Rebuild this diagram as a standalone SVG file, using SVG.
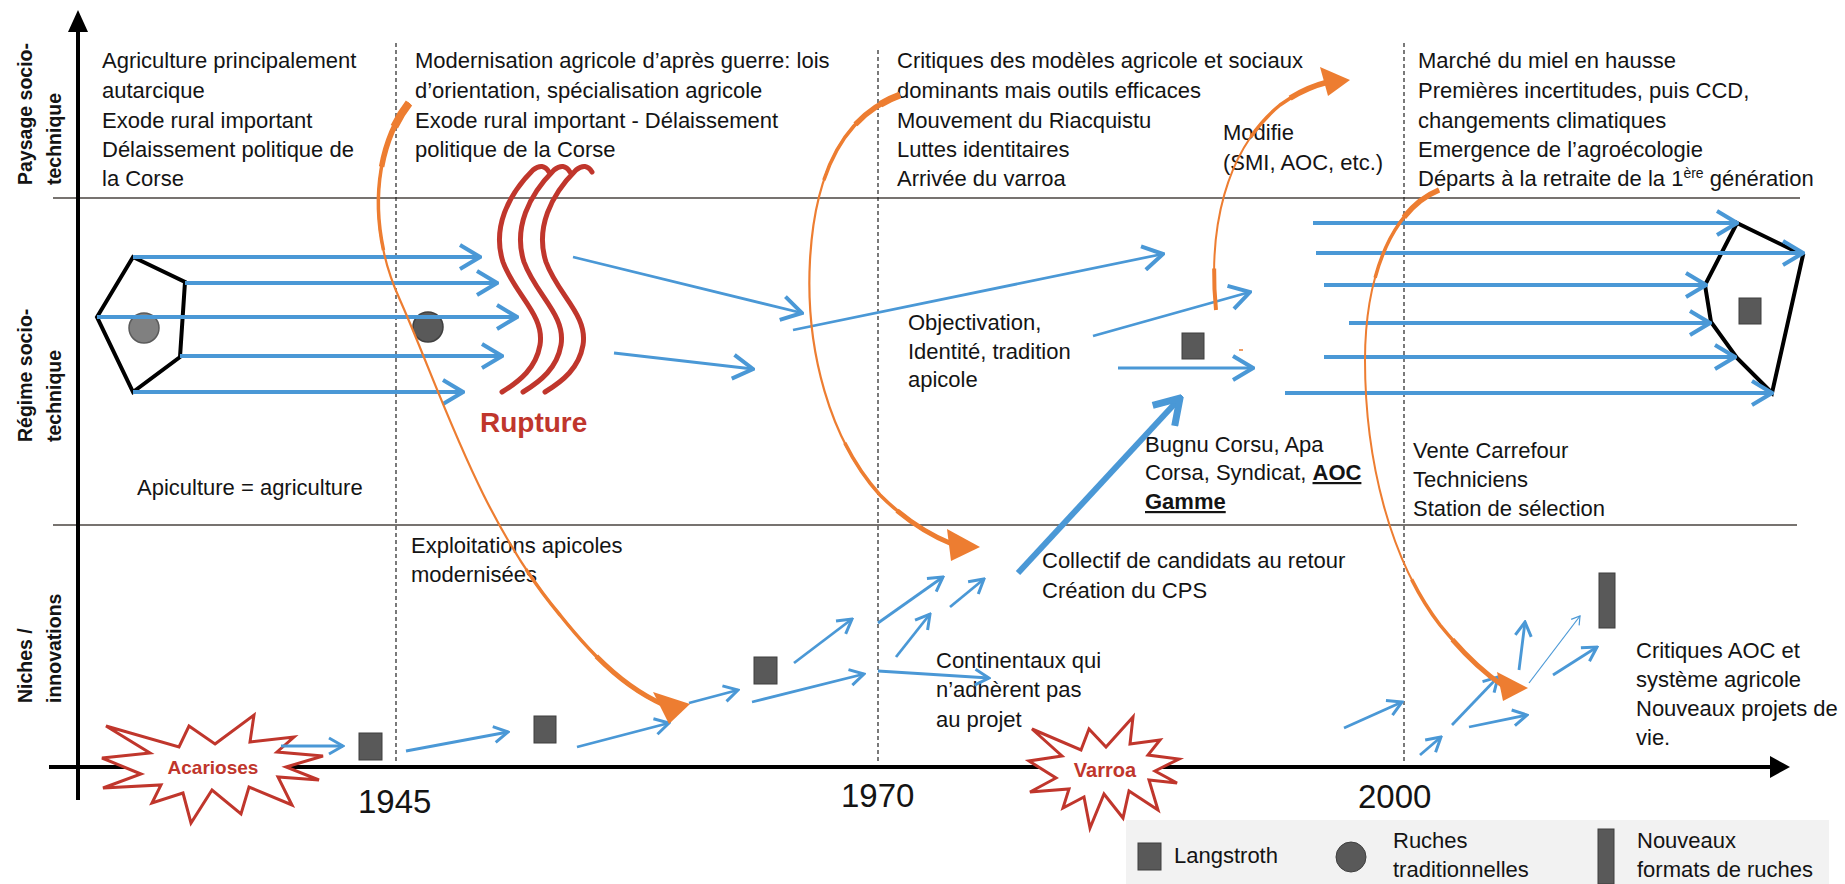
<svg xmlns="http://www.w3.org/2000/svg" width="1845" height="884" viewBox="0 0 1845 884">
<defs>
<style>
text{font-family:"Liberation Sans",Arial,sans-serif;fill:#141414}
.t{font-size:22px}
.lab{font-size:19.5px;font-weight:bold}
.yr{font-size:33px}
.ba{stroke:#4A98D6;stroke-width:4;fill:none}
.bs{stroke:#4A98D6;stroke-width:2.8;fill:none}
.or{stroke:#ED7D31;fill:none;stroke-linecap:butt}
.oh{fill:#ED7D31}
.sq{fill:#595959;stroke:#3f3f3f;stroke-width:1}
.rup{stroke:#C0362C;stroke-width:5;fill:none;stroke-linecap:round}
.sep{stroke:#4a4540;stroke-width:1.5}
.dash{stroke:#222;stroke-width:1.2;stroke-dasharray:4 3}
.star{fill:#fff;stroke:#C0362C;stroke-width:3;stroke-linejoin:miter}
.red{fill:#C0362C;font-weight:bold}
.pent{fill:none;stroke:#000;stroke-width:4;stroke-linejoin:miter}
</style>
<marker id="ah" viewBox="0 0 24 28" refX="22" refY="14" markerWidth="24" markerHeight="28" markerUnits="userSpaceOnUse" orient="auto"><path d="M2,2 L22,14 L2,26" fill="none" stroke="#4A98D6" stroke-width="4"/></marker>
<marker id="ahs" viewBox="0 0 18 20" refX="16" refY="10" markerWidth="18" markerHeight="20" markerUnits="userSpaceOnUse" orient="auto"><path d="M2,2 L16,10 L2,18" fill="none" stroke="#4A98D6" stroke-width="3"/></marker>
<marker id="ahl" viewBox="0 0 30 36" refX="27" refY="18" markerWidth="30" markerHeight="36" markerUnits="userSpaceOnUse" orient="auto"><path d="M3,3 L27,18 L3,33" fill="none" stroke="#4A98D6" stroke-width="7"/></marker>
<marker id="aht" viewBox="0 0 10 12" refX="9" refY="6" markerWidth="10" markerHeight="12" markerUnits="userSpaceOnUse" orient="auto"><path d="M1,1 L9,6 L1,11" fill="none" stroke="#4A98D6" stroke-width="1.2"/></marker>
<path id="o1" pathLength="100" d="M409,103 C372,150 368,230 400,300 C440,390 480,520 560,615 C600,665 630,690 664,705"/>
<path id="o2" pathLength="100" d="M900,95 C845,115 815,170 810,260 C805,350 830,440 880,495 C905,520 930,535 952,544"/>
<path id="o3" pathLength="100" d="M1216,310 C1208,230 1225,150 1280,105 C1298,92 1312,86 1328,82"/>
<path id="o4" pathLength="100" d="M1439,190 C1390,210 1365,280 1365,360 C1365,460 1390,560 1440,625 C1462,652 1480,670 1502,685"/>
</defs>
<rect width="1845" height="884" fill="#fff"/>

<g id="frame">
<line class="sep" x1="53" y1="198" x2="1800" y2="198"/>
<line class="sep" x1="53" y1="525" x2="1797" y2="525"/>
<line class="dash" x1="396" y1="43" x2="396" y2="762"/>
<line class="dash" x1="878" y1="50" x2="878" y2="762"/>
<line class="dash" x1="1404" y1="43" x2="1404" y2="762"/>
<line x1="78" y1="800" x2="78" y2="28" stroke="#000" stroke-width="4"/>
<polygon points="78,10 68,32 88,32" fill="#000"/>
<line x1="49" y1="767" x2="1772" y2="767" stroke="#000" stroke-width="4"/>
<polygon points="1790,767 1770,756 1770,778" fill="#000"/>
</g>

<g id="axis-labels">
<text class="lab" transform="translate(32,185) rotate(-90)">Paysage socio-</text>
<text class="lab" transform="translate(61,185) rotate(-90)">technique</text>
<text class="lab" transform="translate(32,442) rotate(-90)">Régime socio-</text>
<text class="lab" transform="translate(61,442) rotate(-90)">technique</text>
<text class="lab" transform="translate(32,703) rotate(-90)">Niches /</text>
<text class="lab" transform="translate(61,703) rotate(-90)">innovations</text>
<text class="yr" x="358" y="813">1945</text>
<text class="yr" x="841" y="807">1970</text>
<text class="yr" x="1358" y="808">2000</text>
</g>

<g id="landscape-1">
<text class="t" x="102" y="68">Agriculture principalement</text>
<text class="t" x="102" y="98">autarcique</text>
<text class="t" x="102" y="128">Exode rural important</text>
<text class="t" x="102" y="157">Délaissement politique de</text>
<text class="t" x="102" y="186">la Corse</text>
</g>
<g id="landscape-2">
<text class="t" x="415" y="68">Modernisation agricole d’après guerre: lois</text>
<text class="t" x="415" y="98">d’orientation, spécialisation agricole</text>
<text class="t" x="415" y="128">Exode rural important - Délaissement</text>
<text class="t" x="415" y="157">politique de la Corse</text>
</g>
<g id="landscape-3">
<text class="t" x="897" y="68">Critiques des modèles agricole et sociaux</text>
<text class="t" x="897" y="98">dominants mais outils efficaces</text>
<text class="t" x="897" y="128">Mouvement du Riacquistu</text>
<text class="t" x="897" y="157">Luttes identitaires</text>
<text class="t" x="897" y="186">Arrivée du varroa</text>
</g>
<g id="landscape-4">
<text class="t" x="1418" y="68">Marché du miel en hausse</text>
<text class="t" x="1418" y="98">Premières incertitudes, puis CCD,</text>
<text class="t" x="1418" y="128">changements climatiques</text>
<text class="t" x="1418" y="157">Emergence de l’agroécologie</text>
<text class="t" x="1418" y="186">Départs à la retraite de la 1<tspan dy="-8" font-size="14">ère</tspan><tspan dy="8"> génération</tspan></text>
</g>
<g id="modifie">
<text class="t" x="1223" y="140">Modifie</text>
<text class="t" x="1223" y="170">(SMI, AOC, etc.)</text>
</g>

<g id="regime-1">
<polygon class="pent" points="133,257 185,282 180,357 133,392 97,317"/>
<circle cx="144" cy="328" r="15" fill="#808080" stroke="#5a5a5a" stroke-width="1.5"/>
<text class="t" x="137" y="495">Apiculture = agriculture</text>
</g>
<g id="regime-1945">
<circle cx="428" cy="327" r="15" fill="#595959" stroke="#3f3f3f" stroke-width="1.5"/>
</g>
<g id="rupture">
<path class="rup" d="M549,172 Q543,162 533,170 C508,195 492,228 503,262 C515,295 545,315 540,345 C536,368 520,381 502,392"/>
<path class="rup" d="M570,172 Q564,162 554,170 C529,195 513,228 524,262 C536,295 566,315 561,345 C557,368 541,381 523,392"/>
<path class="rup" d="M592,172 Q586,162 576,170 C551,195 535,228 546,262 C558,295 588,315 583,345 C579,368 563,381 545,392"/>
<text class="red" x="480" y="432" font-size="28">Rupture</text>
</g>
<g id="regime-1970">
<text class="t" x="908" y="330">Objectivation,</text>
<text class="t" x="908" y="359">Identité, tradition</text>
<text class="t" x="908" y="387">apicole</text>
<rect class="sq" x="1182" y="333" width="22" height="26"/>
<line x1="1239" y1="350" x2="1243" y2="350" stroke="#ED7D31" stroke-width="1.5"/>
<text class="t" x="1145" y="452">Bugnu Corsu, Apa</text>
<text class="t" x="1145" y="480">Corsa, Syndicat, <tspan font-weight="bold" text-decoration="underline">AOC</tspan></text>
<text class="t" x="1145" y="509" font-weight="bold" text-decoration="underline">Gamme</text>
</g>
<g id="regime-2000">
<text class="t" x="1413" y="458">Vente Carrefour</text>
<text class="t" x="1413" y="487">Techniciens</text>
<text class="t" x="1413" y="516">Station de sélection</text>
<polygon class="pent" points="1737,223 1803,255 1772,393 1737,358 1711,322 1705,285"/>
<rect class="sq" x="1739" y="298" width="22" height="26"/>
</g>

<g id="niche-1945">
<polygon class="star" points="215,744 254,715 250,742 294,737 277,752 323,756 286,767 319,780 278,777 292,805 249,787 241,814 212,790 191,823 183,793 152,803 161,785 103,788 141,774 102,758 150,753 106,726 179,747 189,726"/>
<text class="red" x="213" y="774" font-size="19" text-anchor="middle">Acarioses</text>
<rect class="sq" x="359" y="733" width="23" height="27"/>
<rect class="sq" x="534" y="716" width="22" height="27"/>
<text class="t" x="411" y="553">Exploitations apicoles</text>
<text class="t" x="411" y="582">modernisées</text>
</g>
<g id="niche-1970">
<rect class="sq" x="754" y="657" width="23" height="27"/>
<text class="t" x="1042" y="568">Collectif de candidats au retour</text>
<text class="t" x="1042" y="598">Création du CPS</text>
<text class="t" x="936" y="668">Continentaux qui</text>
<text class="t" x="936" y="697">n’adhèrent pas</text>
<text class="t" x="936" y="727">au projet</text>
<polygon class="star" points="1106,747 1133,717 1130,744 1160,740 1148,755 1179,759 1155,771 1177,783 1149,780 1158,810 1129,791 1123,818 1104,794 1090,828 1084,797 1063,808 1069,789 1030,792 1056,778 1029,761 1062,756 1032,729 1081,750 1089,729"/>
<text class="red" x="1105" y="777" font-size="20" text-anchor="middle">Varroa</text>
</g>
<g id="niche-2000">
<rect class="sq" x="1599" y="573" width="16" height="55"/>
<text class="t" x="1636" y="658">Critiques AOC et</text>
<text class="t" x="1636" y="687">système agricole</text>
<text class="t" x="1636" y="716">Nouveaux projets de</text>
<text class="t" x="1636" y="745">vie.</text>
</g>

<g id="legend">
<rect x="1126" y="820" width="703" height="64" fill="#F2F2F2"/>
<rect class="sq" x="1138" y="843" width="23" height="27"/>
<text class="t" x="1174" y="863">Langstroth</text>
<circle cx="1351" cy="857" r="15" fill="#595959" stroke="#3f3f3f" stroke-width="1"/>
<text class="t" x="1393" y="848">Ruches</text>
<text class="t" x="1393" y="877">traditionnelles</text>
<rect class="sq" x="1598" y="829" width="16" height="55"/>
<text class="t" x="1637" y="848">Nouveaux</text>
<text class="t" x="1637" y="877">formats de ruches</text>
</g>

<g id="connectors">
<!-- regime 1 arrows -->
<line class="ba" x1="133" y1="257" x2="480" y2="257" marker-end="url(#ah)"/>
<line class="ba" x1="185" y1="283" x2="497" y2="283" marker-end="url(#ah)"/>
<line class="ba" x1="97" y1="317" x2="517" y2="317" marker-end="url(#ah)"/>
<line class="ba" x1="180" y1="356" x2="502" y2="356" marker-end="url(#ah)"/>
<line class="ba" x1="133" y1="392" x2="463" y2="392" marker-end="url(#ah)"/>
<!-- after rupture -->
<line class="bs" x1="573" y1="257" x2="802" y2="313" marker-end="url(#ah)"/>
<line class="bs" x1="614" y1="353" x2="753" y2="369" marker-end="url(#ah)"/>
<line class="bs" x1="793" y1="330" x2="1163" y2="254" marker-end="url(#ah)"/>
<line class="bs" x1="1093" y1="336" x2="1250" y2="292" marker-end="url(#ah)"/>
<line class="bs" x1="1118" y1="368" x2="1253" y2="368" marker-end="url(#ah)"/>
<!-- regime 2000 arrows -->
<line class="ba" x1="1313" y1="223" x2="1737" y2="223" marker-end="url(#ah)"/>
<line class="ba" x1="1316" y1="253" x2="1803" y2="253" marker-end="url(#ah)"/>
<line class="ba" x1="1324" y1="285" x2="1706" y2="285" marker-end="url(#ah)"/>
<line class="ba" x1="1349" y1="323" x2="1710" y2="323" marker-end="url(#ah)"/>
<line class="ba" x1="1324" y1="357" x2="1735" y2="357" marker-end="url(#ah)"/>
<line class="ba" x1="1285" y1="393" x2="1772" y2="393" marker-end="url(#ah)"/>
<!-- thick niche to regime -->
<line x1="1018" y1="573" x2="1180" y2="398" stroke="#4A98D6" stroke-width="6" marker-end="url(#ahl)"/>
<!-- niche arrows -->
<line class="bs" x1="281" y1="746" x2="343" y2="746" marker-end="url(#ahs)"/>
<line class="bs" x1="406" y1="751" x2="508" y2="732" marker-end="url(#ahs)"/>
<line class="bs" x1="577" y1="747" x2="669" y2="723" marker-end="url(#ahs)"/>
<line class="bs" x1="689" y1="703" x2="738" y2="690" marker-end="url(#ahs)"/>
<line class="bs" x1="752" y1="702" x2="864" y2="674" marker-end="url(#ahs)"/>
<line class="bs" x1="794" y1="663" x2="852" y2="619" marker-end="url(#ahs)"/>
<line class="bs" x1="878" y1="623" x2="943" y2="577" marker-end="url(#ahs)"/>
<line class="bs" x1="896" y1="657" x2="930" y2="614" marker-end="url(#ahs)"/>
<line class="bs" x1="950" y1="607" x2="984" y2="579" marker-end="url(#ahs)"/>
<line class="bs" x1="878" y1="671" x2="989" y2="678" marker-end="url(#ahs)"/>
<line class="bs" x1="1344" y1="728" x2="1402" y2="702" marker-end="url(#ahs)"/>
<line class="bs" x1="1420" y1="755" x2="1441" y2="737" marker-end="url(#ahs)"/>
<line class="bs" x1="1452" y1="725" x2="1498" y2="677" marker-end="url(#ahs)"/>
<line class="bs" x1="1469" y1="727" x2="1527" y2="715" marker-end="url(#ahs)"/>
<line class="bs" x1="1519" y1="670" x2="1525" y2="622" marker-end="url(#ahs)"/>
<line x1="1529" y1="683" x2="1580" y2="616" stroke="#4A98D6" stroke-width="1.2" marker-end="url(#aht)"/>
<line class="bs" x1="1553" y1="675" x2="1597" y2="647" marker-end="url(#ahs)"/>
<!-- orange arrows -->
<use href="#o1" class="or" stroke-width="2.2"/>
<use href="#o1" class="or" stroke-width="3.5" stroke-dasharray="22 200"/>
<use href="#o1" class="or" stroke-width="5.5" stroke-dasharray="10 200"/>
<use href="#o1" class="or" stroke-width="8" stroke-dasharray="4 200"/>
<use href="#o1" class="or" stroke-width="3.5" stroke-dasharray="0 72 28 0"/>
<use href="#o1" class="or" stroke-width="5" stroke-dasharray="0 88 12 0"/>
<polygon class="oh" points="653,692 690,704 669,724"/>
<use href="#o2" class="or" stroke-width="2.2"/>
<use href="#o2" class="or" stroke-width="3.5" stroke-dasharray="22 200"/>
<use href="#o2" class="or" stroke-width="5.5" stroke-dasharray="10 200"/>
<use href="#o2" class="or" stroke-width="7" stroke-dasharray="4 200"/>
<use href="#o2" class="or" stroke-width="3.5" stroke-dasharray="0 72 28 0"/>
<use href="#o2" class="or" stroke-width="5" stroke-dasharray="0 88 12 0"/>
<polygon class="oh" points="947,529 980,547 951,561"/>
<use href="#o3" class="or" stroke-width="2"/>
<use href="#o3" class="or" stroke-width="4" stroke-dasharray="15 200"/>
<use href="#o3" class="or" stroke-width="3.5" stroke-dasharray="0 65 35 0"/>
<use href="#o3" class="or" stroke-width="5.5" stroke-dasharray="0 85 15 0"/>
<polygon class="oh" points="1320,67 1350,80 1328,96"/>
<use href="#o4" class="or" stroke-width="2"/>
<use href="#o4" class="or" stroke-width="3.5" stroke-dasharray="20 200"/>
<use href="#o4" class="or" stroke-width="5.5" stroke-dasharray="8 200"/>
<use href="#o4" class="or" stroke-width="3.5" stroke-dasharray="0 75 25 0"/>
<use href="#o4" class="or" stroke-width="5" stroke-dasharray="0 88 12 0"/>
<polygon class="oh" points="1497,672 1528,688 1503,701"/>
</g>
</svg>
